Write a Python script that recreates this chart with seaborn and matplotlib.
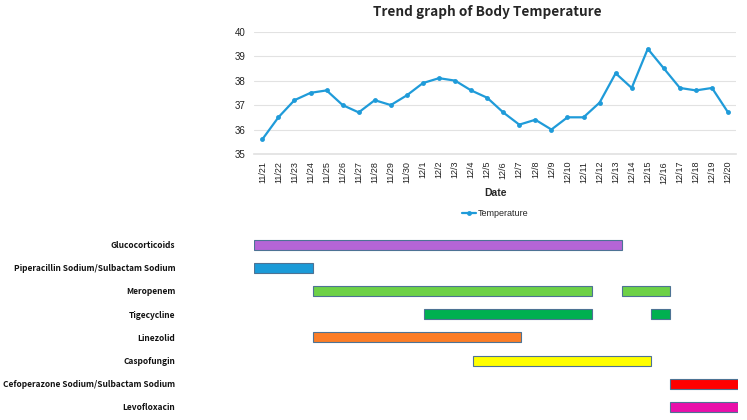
"""Body temperature trend with drug course timeline."""
import matplotlib
matplotlib.use("Agg")
import matplotlib.pyplot as plt
import seaborn as sns
import pandas as pd

# temperature per day
dates = ["11/21", "11/22", "11/23", "11/24", "11/25", "11/26", "11/27", "11/28",
         "11/29", "11/30", "12/1", "12/2", "12/3", "12/4", "12/5", "12/6", "12/7",
         "12/8", "12/9", "12/10", "12/11", "12/12", "12/13", "12/14", "12/15",
         "12/16", "12/17", "12/18", "12/19", "12/20"]
temps = [35.6, 36.5, 37.2, 37.5, 37.6, 37.0, 36.7, 37.2, 37.0, 37.4, 37.9, 38.1,
         38.0, 37.6, 37.3, 36.7, 36.2, 36.4, 36.0, 36.5, 36.5, 37.1, 38.3, 37.7,
         39.3, 38.5, 37.7, 37.6, 37.7, 36.7]

# drug courses (in day units, 0 = 11/21)
drugs = ["Glucocorticoids", "Piperacillin Sodium/Sulbactam Sodium", "Meropenem",
         "Tigecycline", "Linezolid", "Caspofungin",
         "Cefoperazone Sodium/Sulbactam Sodium", "Levofloxacin"]
drug_colors = ["#b565d6", "#1b9bd8", "#6dd147", "#00b050", "#fb7d27", "#ffff00",
               "#ff0000", "#e910aa"]
seg_drug = [0, 1, 2, 2, 3, 3, 4, 5, 6, 7]
seg_start = [-0.5, -0.5, 3.15, 22.4, 10.05, 24.2, 3.15, 13.1, 25.4, 25.4]
seg_end = [22.4, 3.15, 20.5, 25.4, 20.5, 25.4, 16.1, 24.2, 29.6, 29.6]

sns.set_theme(style="white")
plt.rcParams["font.family"] = ["Liberation Sans", "DejaVu Sans"]
narrow = ["Noto Sans CJK SC", "Liberation Sans"]

W, H = 747, 420
fig = plt.figure(figsize=(W / 100, H / 100), dpi=100)
ax_t = fig.add_axes([254.3 / W, 1 - 154 / H, 481.8 / W, (154 - 31.7) / H])
ax_g = fig.add_axes([254.3 / W, 1 - 418.5 / H, 483.4 / W, (418.5 - 233) / H])

# ---- temperature line
df = pd.DataFrame({"day": range(len(dates)), "temp": temps})
sns.lineplot(data=df, x="day", y="temp", ax=ax_t, color="#1f9bd9", marker="o",
             markersize=3.5, markeredgewidth=0, linewidth=1.6, label="Temperature")
ax_t.set_xlim(-0.5, 29.5)
ax_t.set_ylim(35, 40)
ax_t.set_xticks(range(len(dates)))
ax_t.set_xticklabels(dates, rotation=90)
ax_t.set_yticks(range(35, 41))
ax_t.yaxis.grid(True, color="#e2e2e2", lw=0.8)
ax_t.xaxis.grid(False)
for s in ["top", "right", "left"]:
    ax_t.spines[s].set_visible(False)
ax_t.spines["bottom"].set_color("#e2e2e2")
ax_t.tick_params(axis="x", length=0, pad=5, labelsize=6.5, labelcolor="#222222")
ax_t.tick_params(axis="y", length=0, pad=6.5, labelsize=7, labelcolor="#222222")
ax_t.set_xlabel("Date", fontsize=7.5, fontweight="bold", labelpad=3)
ax_t.set_ylabel("")
ax_t.legend(loc="center", bbox_to_anchor=(495 / W, 1 - 214 / H),
            bbox_transform=fig.transFigure, frameon=False, fontsize=6.5,
            handlelength=1.6, handletextpad=0.2)
title = fig.text(487 / W, 1 - 12 / H, "Trend graph of Body Temperature",
                 ha="center", va="center", fontsize=10.2, fontweight="bold",
                 family=narrow)

# ---- drug timeline
for d, a, b in zip(seg_drug, seg_start, seg_end):
    ax_g.barh(d, b - a, left=a, height=0.43, color=drug_colors[d],
              edgecolor="#4d7394", linewidth=0.8)
ax_g.set_xlim(-0.5, 29.6)
ax_g.set_ylim(len(drugs) - 0.5, -0.5)
ax_g.set_yticks(range(len(drugs)))
labels = ax_g.set_yticklabels(drugs, fontsize=7.3, fontweight="bold", family=narrow)
ax_g.set_xticks([])
for s in ax_g.spines.values():
    s.set_visible(False)
ax_g.tick_params(axis="y", length=0, pad=57, labelcolor="#111111")

# size the texts to the widths seen in the reference
fig.canvas.draw()
renderer = fig.canvas.get_renderer()
widest = max(t.get_window_extent(renderer).width for t in labels)
for t in labels:
    t.set_fontsize(7.3 * 172 / widest)
tw = title.get_window_extent(renderer).width
title.set_fontsize(10.2 * 227 / tw)

fig.savefig("out.png", dpi=100)
